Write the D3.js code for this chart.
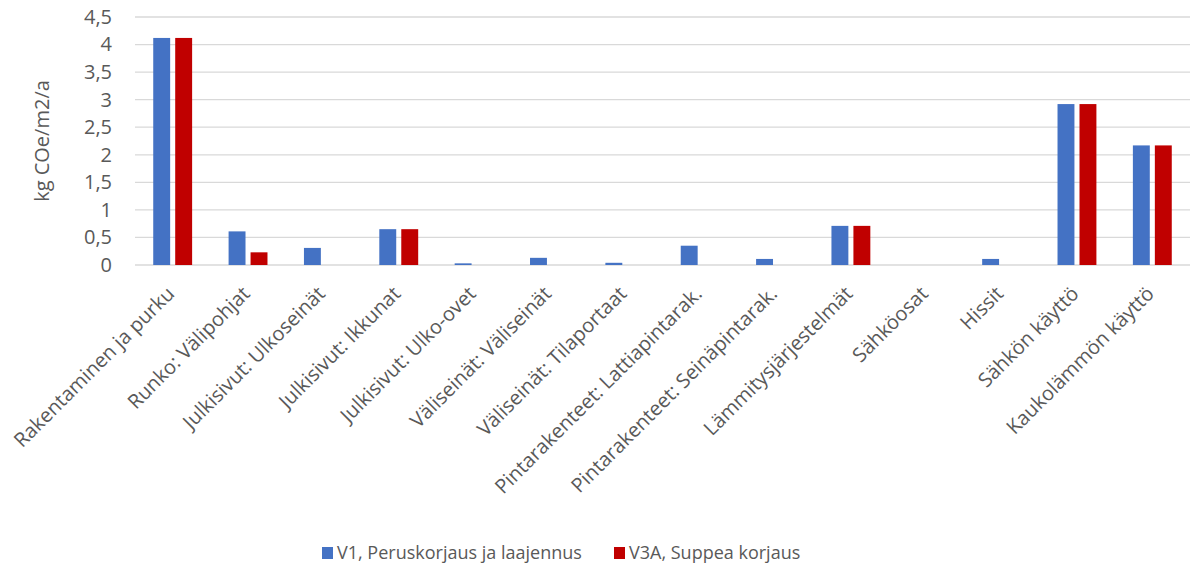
<!DOCTYPE html>
<html>
<head>
<meta charset="utf-8">
<script src="https://cdn.jsdelivr.net/npm/d3@7"></script>
<style>
  body { margin: 0; background: #fff; }
  text { font-family: "Open Sans", sans-serif; fill: #595959; }
</style>
</head>
<body>
<div id="chart-area"></div>
<script>
// Data
var categories = [
	"Rakentaminen ja purku", "Runko: Välipohjat", "Julkisivut: Ulkoseinät", "Julkisivut: Ikkunat",
	"Julkisivut: Ulko-ovet", "Väliseinät: Väliseinät", "Väliseinät: Tilaportaat",
	"Pintarakenteet: Lattiapintarak.", "Pintarakenteet: Seinäpintarak.", "Lämmitysjärjestelmät",
	"Sähköosat", "Hissit", "Sähkön käyttö", "Kaukolämmön käyttö"
];
var seriesNames = ["V1, Peruskorjaus ja laajennus", "V3A, Suppea korjaus"];
var v1 = [4.12, 0.61, 0.31, 0.65, 0.03, 0.13, 0.04, 0.35, 0.11, 0.71, 0, 0.11, 2.92, 2.17];
var v3a = [4.12, 0.23, 0, 0.65, 0, 0, 0, 0, 0, 0.71, 0, 0, 2.92, 2.17];
var yTicks = [0, 0.5, 1, 1.5, 2, 2.5, 3, 3.5, 4, 4.5];
var colors = ["#4472C4", "#C00000"];

var totalW = 1190, totalH = 569;
var margin = {top: 17, right: 0, bottom: 304, left: 135};
var width = totalW - margin.left - margin.right;
var height = totalH - margin.top - margin.bottom;

var svg = d3.select("#chart-area").append("svg")
	.attr("width", totalW)
	.attr("height", totalH);
var g = svg.append("g")
	.attr("transform", "translate(" + margin.left + ", " + margin.top + ")");

// Scales
var x0 = d3.scaleBand()
	.domain(categories)
	.range([0, width]);
var x1 = d3.scaleBand()
	.domain(seriesNames)
	.range([0, x0.bandwidth()])
	.paddingInner(0.23)
	.paddingOuter(0.83);
var y = d3.scaleLinear()
	.domain([0, 4.5])
	.range([height, 0]);

// Gridlines
g.append("g")
	.selectAll("line")
	.data(yTicks)
	.enter().append("line")
		.attr("x1", 0)
		.attr("x2", width)
		.attr("y1", (d) => y(d))
		.attr("y2", (d) => y(d))
		.attr("stroke", "#d9d9d9")
		.attr("stroke-width", 1.3);

// Y axis labels
var yAxis = d3.axisLeft(y)
	.tickValues(yTicks)
	.tickSize(0)
	.tickPadding(23)
	.tickFormat((d) => String(d).replace(".", ","));
var yg = g.append("g").call(yAxis);
yg.select(".domain").remove();
yg.selectAll("text")
	.attr("font-size", "20px")
	.style("font-family", "'Open Sans', sans-serif")
	.attr("fill", "#595959");

// Bars
var rows = categories.map((c, i) => ({ name: c, values: [v1[i], v3a[i]] }));
var groups = g.selectAll(".cat").data(rows)
	.enter().append("g")
		.attr("class", "cat")
		.attr("transform", (d) => "translate(" + x0(d.name) + ",0)");
groups.selectAll("rect")
	.data((d) => d.values.map((v, j) => ({ s: seriesNames[j], v: v, j: j })))
	.enter().append("rect")
		.attr("x", (d) => x1(d.s))
		.attr("y", (d) => y(d.v))
		.attr("width", x1.bandwidth())
		.attr("height", (d) => height - y(d.v))
		.attr("fill", (d) => colors[d.j]);

// X labels
var xAxis = d3.axisBottom(x0).tickSize(0).tickPadding(0);
var xg = g.append("g")
	.attr("transform", "translate(0, " + height + ")")
	.call(xAxis);
xg.select(".domain").remove();
xg.selectAll("text")
	.attr("font-size", "20px")
	.style("font-family", "'Open Sans', sans-serif")
	.attr("fill", "#595959")
	.attr("text-anchor", "end")
	.attr("dy", "0")
	.attr("y", 0)
	.attr("x", 0)
	.attr("transform", "translate(3, 30) rotate(-45)");

// Y title
svg.append("text")
	.attr("transform", "translate(49, " + (margin.top + height / 2) + ") rotate(-90)")
	.attr("text-anchor", "middle")
	.attr("font-size", "20px")
	.text("kg COe/m2/a");

// Legend
var legendX = [322, 614];
var legend = svg.selectAll(".legend").data(seriesNames)
	.enter().append("g")
		.attr("class", "legend")
		.attr("transform", (d, i) => "translate(" + legendX[i] + ", 553)");
legend.append("rect")
	.attr("x", 0)
	.attr("y", -6)
	.attr("width", 11)
	.attr("height", 12)
	.attr("fill", (d, i) => colors[i]);
legend.append("text")
	.attr("x", 15)
	.attr("y", 0)
	.attr("dy", "0.35em")
	.attr("font-size", "18px")
	.text((d) => d);
</script>
</body>
</html>
